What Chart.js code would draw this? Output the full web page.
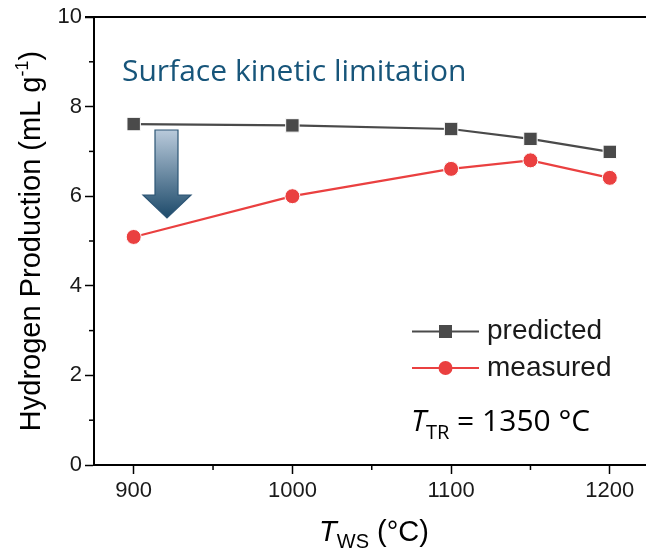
<!DOCTYPE html>
<html>
<head>
<meta charset="utf-8">
<script src="https://cdn.jsdelivr.net/npm/chart.js@4.4.1/dist/chart.umd.min.js"></script>
<style>
  html, body { margin: 0; padding: 0; background: #fff; overflow: hidden; }
  #wrap { width: 660px; height: 553px; }
</style>
</head>
<body>
<div id="wrap"><canvas id="chart"></canvas></div>
<script>
// Data.
const tws = [900, 1000, 1100, 1150, 1200];
const predicted = [7.61, 7.58, 7.50, 7.28, 6.99];
const measured = [5.09, 6.00, 6.61, 6.80, 6.41];
const xTicks = [900, 1000, 1100, 1200];
const xMinor = [950, 1050, 1150];
const yTicks = [0, 2, 4, 6, 8, 10];
const yMinor = [1, 3, 5, 7, 9];

const grey = '#4a4a4a';
const red = '#ea4040';
const axisFont = '"Liberation Sans", Arial, sans-serif';
const noteFont = '"Open Sans", Lato, sans-serif';

// Minor ticks, top frame line, arrow, annotations, legend and axis titles.
const decor = {
  id: 'decor',
  afterDraw(chart) {
    const ctx = chart.ctx;
    const a = chart.chartArea;
    const xs = chart.scales.x, ys = chart.scales.y;
    ctx.save();
    ctx.strokeStyle = '#000';
    ctx.lineWidth = 2;
    ctx.beginPath();
    ctx.moveTo(a.left - 9, a.top);
    ctx.lineTo(a.right, a.top);
    ctx.stroke();
    ctx.lineWidth = 1.5;
    xMinor.forEach(v => {
      const px = xs.getPixelForValue(v);
      ctx.beginPath(); ctx.moveTo(px, a.bottom); ctx.lineTo(px, a.bottom + 5); ctx.stroke();
    });
    yMinor.forEach(v => {
      const py = ys.getPixelForValue(v);
      ctx.beginPath(); ctx.moveTo(a.left, py); ctx.lineTo(a.left - 5, py); ctx.stroke();
    });

    // arrow
    const g = ctx.createLinearGradient(0, 130, 0, 218);
    g.addColorStop(0, '#b9cadb');
    g.addColorStop(1, '#1d4a6a');
    ctx.fillStyle = g;
    ctx.strokeStyle = '#2c5575';
    ctx.lineWidth = 1.2;
    ctx.beginPath();
    ctx.moveTo(155, 130); ctx.lineTo(178, 130); ctx.lineTo(178, 195);
    ctx.lineTo(191, 195); ctx.lineTo(167, 218); ctx.lineTo(143, 195);
    ctx.lineTo(155, 195); ctx.closePath();
    ctx.fill(); ctx.stroke();

    // note text
    ctx.fillStyle = '#17557a';
    ctx.font = '30px ' + noteFont;
    ctx.textBaseline = 'alphabetic';
    ctx.textAlign = 'left';
    ctx.fillText('Surface kinetic limitation', 122, 81);

    ctx.fillStyle = '#000';
    ctx.font = 'italic 30px ' + noteFont;
    ctx.fillText('T', 411, 431);
    let w = ctx.measureText('T').width;
    ctx.font = '20px ' + noteFont;
    ctx.fillText('TR', 411 + w, 439);
    w += ctx.measureText('TR').width;
    ctx.font = '30px ' + noteFont;
    ctx.fillText(' = 1350 °C', 411 + w, 431);

    // legend
    const items = [
      { label: 'predicted', color: grey, y: 331.5, style: 'rect' },
      { label: 'measured', color: red, y: 368, style: 'circle' }
    ];
    items.forEach(it => {
      ctx.strokeStyle = it.color;
      ctx.lineWidth = 2;
      ctx.beginPath(); ctx.moveTo(412, it.y); ctx.lineTo(479, it.y); ctx.stroke();
      ctx.fillStyle = it.color;
      if (it.style === 'rect') {
        ctx.fillRect(439, it.y - 6.5, 13, 13);
      } else {
        ctx.beginPath(); ctx.arc(445.5, it.y, 7, 0, Math.PI * 2); ctx.fill();
      }
      ctx.fillStyle = '#1a1a1a';
      ctx.font = '28px ' + axisFont;
      ctx.textBaseline = 'middle';
      ctx.fillText(it.label, 487, it.y);
    });

    // x title
    ctx.fillStyle = '#000';
    ctx.textBaseline = 'alphabetic';
    const parts = [['T', 'italic 29px ', 0], ['WS', '20px ', 7], [' (°C)', '29px ', 0]];
    let total = 0;
    parts.forEach(p => { ctx.font = p[1] + axisFont; total += ctx.measureText(p[0]).width; });
    let x0 = 374 - total / 2;
    parts.forEach(p => {
      ctx.font = p[1] + axisFont;
      ctx.fillText(p[0], x0, 541 + p[2]);
      x0 += ctx.measureText(p[0]).width;
    });

    // y title
    ctx.translate(40, 241);
    ctx.rotate(-Math.PI / 2);
    const yp = [['Hydrogen Production (mL g', '29px ', 0], ['-1', '18px ', -12], [')', '29px ', 0]];
    total = 0;
    yp.forEach(p => { ctx.font = p[1] + axisFont; total += ctx.measureText(p[0]).width; });
    x0 = -total / 2;
    yp.forEach(p => {
      ctx.font = p[1] + axisFont;
      ctx.fillText(p[0], x0, p[2]);
      x0 += ctx.measureText(p[0]).width;
    });
    ctx.restore();
  }
};

new Chart(document.getElementById('chart'), {
  type: 'line',
  data: {
    datasets: [
      {
        label: 'predicted',
        data: tws.map((x, i) => ({ x: x, y: predicted[i] })),
        borderColor: grey,
        backgroundColor: grey,
        borderWidth: 2.2,
        pointStyle: 'rect',
        pointRadius: 9.5,
        pointBorderColor: '#fff',
        pointBorderWidth: 1,
        tension: 0
      },
      {
        label: 'measured',
        data: tws.map((x, i) => ({ x: x, y: measured[i] })),
        borderColor: red,
        backgroundColor: red,
        borderWidth: 2.2,
        pointStyle: 'circle',
        pointRadius: 7.5,
        pointBorderColor: '#fff',
        pointBorderWidth: 1,
        tension: 0
      }
    ]
  },
  options: {
    responsive: true,
    maintainAspectRatio: false,
    animation: false,
    layout: { padding: { top: 17, right: 8, left: 0, bottom: 0 } },
    plugins: { legend: { display: false }, tooltip: { enabled: false } },
    scales: {
      x: {
        type: 'linear',
        min: 875,
        max: 1225,
        afterBuildTicks: s => { s.ticks = xTicks.map(v => ({ value: v })); },
        afterFit: s => { s.height = 88; },
        grid: { drawOnChartArea: false, tickLength: 9, tickWidth: 1.5, tickColor: '#000' },
        border: { color: '#000', width: 2 },
        ticks: { color: '#1a1a1a', font: { family: axisFont, size: 22 }, padding: 4, callback: v => String(v) }
      },
      y: {
        min: 0,
        max: 10,
        afterBuildTicks: s => { s.ticks = yTicks.map(v => ({ value: v })); },
        afterFit: s => { s.width = 94; },
        grid: { drawOnChartArea: false, tickLength: 9, tickWidth: 1.5, tickColor: '#000' },
        border: { color: '#000', width: 2 },
        ticks: { color: '#1a1a1a', font: { family: axisFont, size: 22 }, padding: 3, callback: v => String(v) }
      }
    }
  },
  plugins: [decor]
});
</script>
</body>
</html>
